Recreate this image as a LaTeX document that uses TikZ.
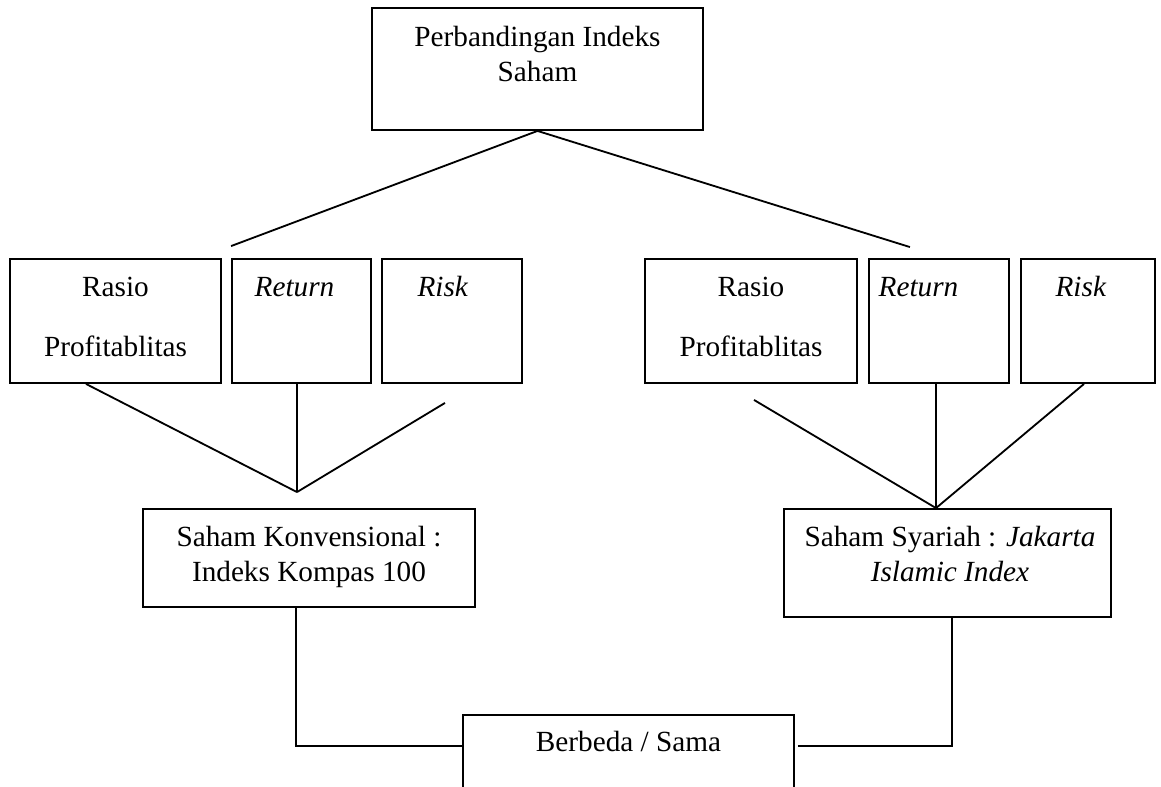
\documentclass[tikz,border=0pt]{standalone}
\usepackage{fontspec}
\setmainfont{Liberation Serif}
\usetikzlibrary{calc}
\tikzset{
  kotak/.style={draw, line width=1.3pt, inner sep=0pt},
  teks/.style={anchor=base, inner sep=0pt, align=center, font=\fontsize{20.8}{24.9}\selectfont},
  garis/.style={line width=1.3pt}
}

\begin{document}
\begin{tikzpicture}[x=0.025cm, y=-0.025cm]
\useasboundingbox (0,0) rectangle (1161,787);
% kotak atas
\node[kotak, minimum width=8.275cm, minimum height=3.05cm] (indeks) at (537.5,69) {};
\node[teks] (indekstxt) at ($(indeks.north)+(0,74)$) {Perbandingan Indeks\\Saham};
% baris kiri
\node[kotak, minimum width=5.275cm, minimum height=3.1cm] (lrasio) at (115.5,321) {};
\node[kotak, minimum width=3.475cm, minimum height=3.1cm] (lreturn) at (301.5,321) {};
\node[kotak, minimum width=3.5cm, minimum height=3.1cm] (lrisk) at (452,321) {};
\node[teks] (lrasiotxt) at ($(lrasio.north)+(0,98)$) {Rasio\\[17.8pt]Profitablitas};
\node[teks] (lreturntxt) at ($(lreturn.north)+(-7,38)$) {\textit{Return}};
\node[teks] (lrisktxt) at ($(lrisk.north)+(-9,38)$) {\textit{Risk}};
% baris kanan
\node[kotak, minimum width=5.3cm, minimum height=3.1cm] (rrasio) at (751,321) {};
\node[kotak, minimum width=3.5cm, minimum height=3.1cm] (rreturn) at (939,321) {};
\node[kotak, minimum width=3.35cm, minimum height=3.1cm] (rrisk) at (1088,321) {};
\node[teks] (rrasiotxt) at ($(rrasio.north)+(0,98)$) {Rasio\\[17.8pt]Profitablitas};
\node[teks] (rreturntxt) at ($(rreturn.north)+(-20.5,38)$) {\textit{Return}};
\node[teks] (rrisktxt) at ($(rrisk.north)+(-7,38)$) {\textit{Risk}};
% saham
\node[kotak, minimum width=8.3cm, minimum height=2.45cm] (lkonv) at (309,558) {};
\node[teks] (lkonvtxt) at ($(lkonv.north)+(0,73)$) {Saham Konvensional :\\Indeks Kompas 100};
\node[kotak, minimum width=8.175cm, minimum height=2.7cm] (rsyar) at (947.5,563) {};
\node[teks] (rsyartxt) at ($(rsyar.north)+(2.5,73)$) {Saham Syariah : \textit{Jakarta}\\\textit{Islamic Index}};
% hasil
\node[kotak, minimum width=8.275cm, minimum height=2.125cm] (hasil) at (628.5,757.5) {};
\node[teks] (hasiltxt) at ($(hasil.north)+(0,37)$) {Berbeda / Sama};

% garis atas
\coordinate (kiri) at ($(lreturn.north west)+(0,-12)$);
\coordinate (kanan) at ($(rrasio.north east)+(52,-11)$);
\draw[garis] (kiri) -- (indeks.south) -- (kanan);
% garis kiri
\coordinate (ltemu) at ($(lkonv.north)+(-12,-16)$);
\coordinate (lriskujung) at ($(lrisk.south)+(-7,19)$);
\draw[garis] ($(lrasio.south)+(-29.5,0)$) -- (ltemu);
\draw[garis] ($(lreturn.south)+(-4.5,0)$) -- (ltemu);
\draw[garis] (lriskujung) -- (ltemu);
% garis kanan
\coordinate (rtemu) at ($(rsyar.north)+(-11.5,0)$);
\coordinate (rrasioujung) at ($(rrasio.south)+(3,16)$);
\draw[garis] (rrasioujung) -- (rtemu);
\draw[garis] ($(rreturn.south)+(-3,0)$) -- (rtemu);
\draw[garis] ($(rrisk.south)+(-4,0)$) -- (rtemu);
% garis bawah
\draw[garis] ($(lkonv.south)+(-13,0)$) |- ($(hasil.north west)+(0,32)$);
\draw[garis] ($(hasil.north east)+(3,32)$) -| ($(rsyar.south)+(4.5,0)$);
\end{tikzpicture}
\end{document}
